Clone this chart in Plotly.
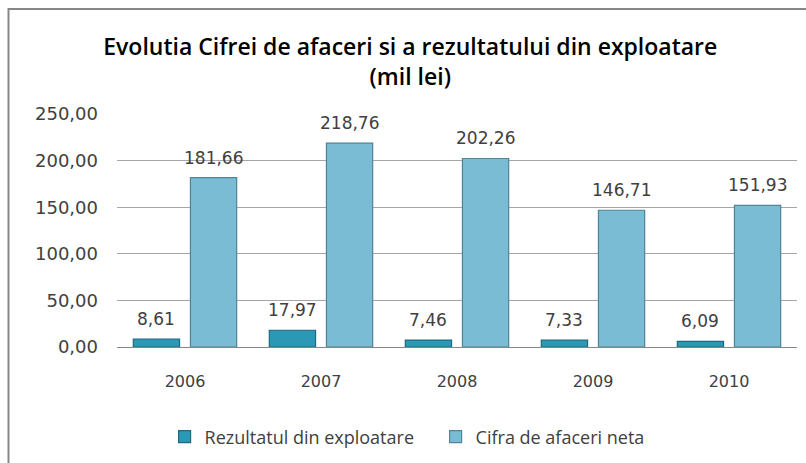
import plotly.graph_objects as go

# Annual figures, million lei
years = ["2006", "2007", "2008", "2009", "2010"]
rezultat_exploatare = [8.61, 17.97, 7.46, 7.33, 6.09]
cifra_afaceri = [181.66, 218.76, 202.26, 146.71, 151.93]
y_ticks = [0, 50, 100, 150, 200, 250]

title_text = "Evolutia Cifrei de afaceri si a rezultatului din exploatare<br>(mil lei)"

label_font = dict(family="DejaVu Sans", size=17, color="#404040")

series = [
    ("Rezultatul din exploatare", rezultat_exploatare, "#2B98B6", "#1D6A80"),
    ("Cifra de afaceri neta", cifra_afaceri, "#79BCD3", "#4F8499"),
]

fig = go.Figure()
for name, values, fill, edge in series:
    fig.add_trace(go.Bar(
        name=name, x=years, y=values,
        marker=dict(color=fill, line=dict(color=edge, width=1.2)),
    ))

bargap = 0.16
plot_w = 680
slot = plot_w / len(years) * (1 - bargap) / len(series)

# Value labels above each bar (x given as category index)
for i, (name, values, _, _) in enumerate(series):
    offset = (i - (len(series) - 1) / 2) * slot
    for j, v in enumerate(values):
        fig.add_annotation(
            x=j, y=v, xref="x", yref="y",
            text=f"{v:.2f}".replace(".", ","),
            showarrow=False, xshift=offset, yshift=8,
            yanchor="bottom", xanchor="center", font=label_font,
        )

fig.update_layout(
    width=806, height=463,
    margin=dict(l=117, r=9, t=114, b=115),
    paper_bgcolor="white", plot_bgcolor="white",
    separators=", ",
    barmode="group", bargap=bargap, bargroupgap=0.19,
    title=dict(text=title_text, x=0.509, xanchor="center", y=0.882, yanchor="middle",
               font=dict(family="Open Sans", size=23, color="#000000", weight=600)),
    xaxis=dict(type="category", range=[-0.5, len(years) - 0.5],
               showline=True, linecolor="#868686", linewidth=1, ticks="",
               tickfont=dict(family="DejaVu Sans", size=16, color="#404040"),
               ticklabelstandoff=20, showgrid=False),
    yaxis=dict(range=[0, 250], tickvals=y_ticks, tickformat=".2f",
               showgrid=True, gridcolor="#A6A6A6", gridwidth=1,
               zeroline=False, showline=False, ticks="",
               tickfont=dict(family="DejaVu Sans", size=18, color="#404040"),
               ticklabelstandoff=18),
    legend=dict(orientation="h", x=0.07, xanchor="left", y=-0.38, yanchor="middle",
                font=dict(family="Open Sans", size=18, color="#404040"),
                itemwidth=30, entrywidth=226, entrywidthmode="pixels",
                traceorder="normal"),
    showlegend=True,
)

# Outer chart frame
fig.add_shape(type="rect", xref="paper", yref="paper",
              x0=(8.5 - 117) / 680, x1=(812 - 117) / 680,
              y0=(348 - 470) / 234, y1=(348 - 8.5) / 234,
              line=dict(color="#878787", width=2), fillcolor="rgba(0,0,0,0)", layer="below")

fig.write_html("out.html")
